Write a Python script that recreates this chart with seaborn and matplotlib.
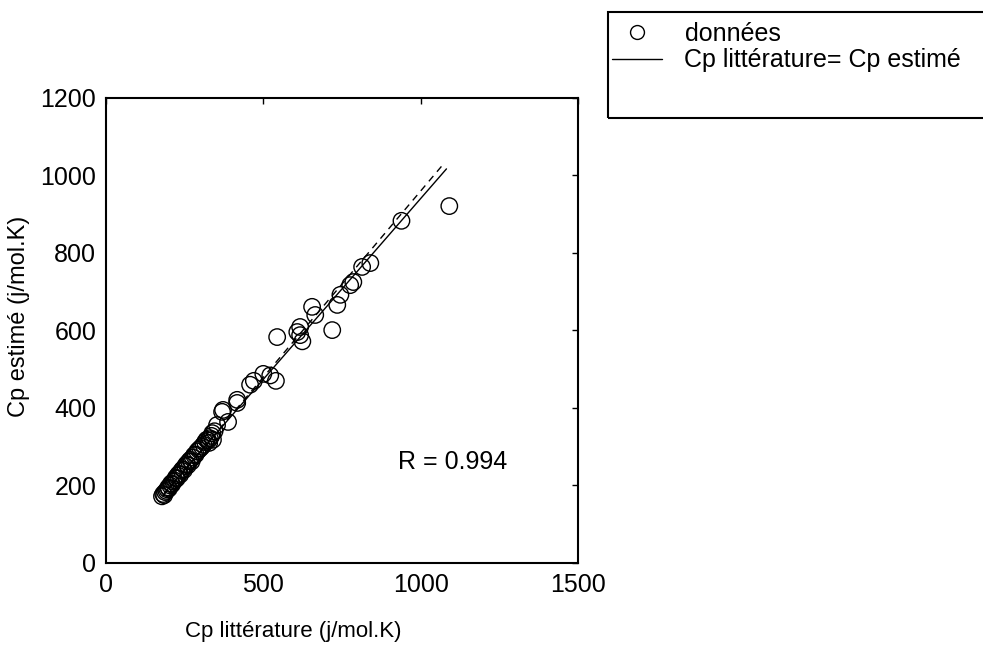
import matplotlib
matplotlib.use("Agg")
import matplotlib.pyplot as plt
import seaborn as sns
import numpy as np
import pandas as pd
from matplotlib.patches import Rectangle
from matplotlib.lines import Line2D

# ---- data ----
cp_litterature = [178, 182, 185, 188, 192, 195, 198, 200, 204, 207, 210, 214, 218, 222,
                  225, 228, 232, 236, 240, 244, 248, 252, 256, 260, 264, 268, 272, 276,
                  280, 285, 290, 295, 300, 305, 310, 315, 320, 325, 330, 335, 340, 328,
                  338, 345, 353, 369, 388, 372, 417, 417, 458, 470, 500, 522, 540, 544,
                  608, 617, 617, 624, 655, 665, 719, 735, 745, 776, 786, 814, 840, 939, 1091]
cp_estime = [172, 178, 175, 183, 186, 190, 195, 192, 200, 205, 203, 210, 213, 220,
             218, 226, 230, 228, 238, 242, 240, 250, 255, 252, 262, 266, 262, 272,
             278, 280, 288, 292, 296, 300, 305, 312, 318, 316, 322, 328, 318, 310,
             335, 340, 356, 390, 364, 395, 421, 413, 460, 470, 488, 484, 470, 583,
             596, 609, 588, 572, 661, 640, 601, 666, 692, 717, 725, 764, 774, 883, 921]

identity_x = [185, 1082]
identity_y = [180, 1017]
fit_x = [180, 1075]
fit_y = [172, 1032]

x_ticks = [0, 500, 1000, 1500]
y_ticks = [0, 200, 400, 600, 800, 1000, 1200]

sns.set_theme(style="white")
plt.rcParams['font.family'] = ['Liberation Sans', 'DejaVu Sans']
plt.rcParams['text.color'] = 'black'
plt.rcParams['axes.labelcolor'] = 'black'
plt.rcParams['xtick.color'] = 'black'
plt.rcParams['ytick.color'] = 'black'

fig = plt.figure(figsize=(9.83, 6.51), dpi=100)
ax = fig.add_axes([0.1078, 0.1352, 0.4802, 0.7143])

df = pd.DataFrame({"lit": cp_litterature, "est": cp_estime})
sns.scatterplot(data=df, x="lit", y="est", ax=ax, marker="o", s=140,
                facecolors="none", edgecolor="black", linewidth=1.0, zorder=3)

sns.lineplot(x=identity_x, y=identity_y, ax=ax, color="black", linewidth=1.0, zorder=2)
sns.lineplot(x=fit_x, y=fit_y, ax=ax, color="black", linewidth=1.0,
             linestyle=(0, (5, 4)), zorder=2)

ax.set_xlim(0, 1500)
ax.set_ylim(0, 1200)
ax.set_xticks(x_ticks)
ax.set_yticks(y_ticks)
ax.tick_params(direction="in", length=4, width=1, top=True, right=True,
               labelsize=18, colors="black", pad=7)
for s in ax.spines.values():
    s.set_color("black")
    s.set_linewidth(1.5)
ax.set_xlabel("Cp littérature (j/mol.K)", fontsize=16)
ax.set_ylabel("Cp estimé (j/mol.K)", fontsize=17)
ax.xaxis.set_label_coords(0.396, -0.125)
ax.yaxis.set_label_coords(-0.16, 0.53)

ax.text(1101, 261, "R = 0.994", fontsize=18, ha="center", va="center")

# legend box
fig.patches.append(Rectangle((608 / 983, 1 - 118 / 651), 0.5, (118 - 12) / 651,
                             transform=fig.transFigure, fill=False,
                             edgecolor="black", linewidth=1.5))
handles = [Line2D([], [], marker="o", linestyle="none", markerfacecolor="none",
                  markeredgecolor="black", markersize=10),
           Line2D([], [], color="black", linewidth=1.0)]
fig.legend(handles, ["données", "Cp littérature= Cp estimé"],
           loc="upper left", bbox_to_anchor=(612 / 983, 1 - 22 / 651),
           frameon=False, fontsize=18, handlelength=2.0, handletextpad=0.9,
           labelspacing=0.1, borderaxespad=0, borderpad=0.0)

fig.savefig("out.png", dpi=100)
